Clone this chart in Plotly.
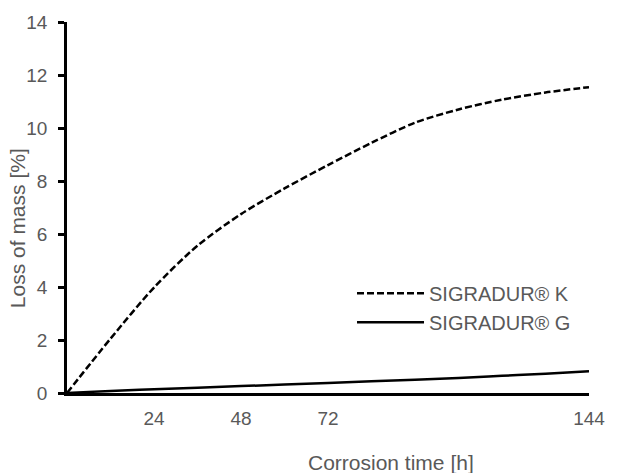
import plotly.graph_objects as go

# Data
time_h = [0, 12, 24, 36, 48, 60, 72, 84, 96, 108, 120, 132, 144]
sigradur_k = [0, 2.05, 3.98, 5.56, 6.75, 7.72, 8.6, 9.44, 10.2, 10.7, 11.07, 11.34, 11.54]
sigradur_g = [0, 0.08, 0.14, 0.2, 0.26, 0.32, 0.38, 0.44, 0.5, 0.57, 0.65, 0.73, 0.82]
x_ticks = [24, 48, 72, 144]
y_ticks = [0, 2, 4, 6, 8, 10, 12, 14]

FONT = "Liberation Sans, Arial, sans-serif"
GRAY = "#595959"

fig = go.Figure()
fig.add_trace(go.Scatter(x=time_h, y=sigradur_k, mode="lines", name="SIGRADUR® K",
                         line=dict(color="black", width=2.5, dash="7px,3px", shape="spline", smoothing=0.8)))
fig.add_trace(go.Scatter(x=time_h, y=sigradur_g, mode="lines", name="SIGRADUR® G",
                         line=dict(color="black", width=2.5, shape="spline")))

fig.update_layout(
    width=617, height=473,
    margin=dict(l=67, r=19, t=21, b=80),
    plot_bgcolor="white", paper_bgcolor="white",
    font=dict(family=FONT, size=19, color=GRAY),
    showlegend=True,
    legend=dict(x=0.546, y=0.2295, xanchor="left", yanchor="middle",
                bgcolor="rgba(0,0,0,0)", font=dict(size=20, color=GRAY),
                itemwidth=67, tracegroupgap=0),
    xaxis=dict(range=[0, 144], tickmode="array", tickvals=x_ticks,
               ticktext=[str(v) for v in x_ticks], ticks="", showgrid=False,
               zeroline=False, showline=True, linecolor="black", linewidth=2.5,
               tickfont=dict(size=19, color=GRAY), ticklabelstandoff=6),
    yaxis=dict(range=[0, 14], tickmode="array", tickvals=y_ticks, ticks="outside",
               ticklen=6, tickwidth=2.5, tickcolor="black", showgrid=False,
               zeroline=False, showline=True, linecolor="black", linewidth=2.5,
               tickfont=dict(size=19, color=GRAY), ticklabelstandoff=7),
    annotations=[
        dict(text="Corrosion time [h]", xref="paper", yref="paper", x=0.621, y=-0.186,
             xanchor="center", yanchor="middle", showarrow=False, font=dict(size=21, color=GRAY)),
        dict(text="Loss of mass [%]", xref="paper", yref="paper", x=-0.096, y=0.444,
             xanchor="center", yanchor="middle", textangle=-90, showarrow=False,
             font=dict(size=21, color=GRAY)),
    ],
)

fig.write_html("out.html")
